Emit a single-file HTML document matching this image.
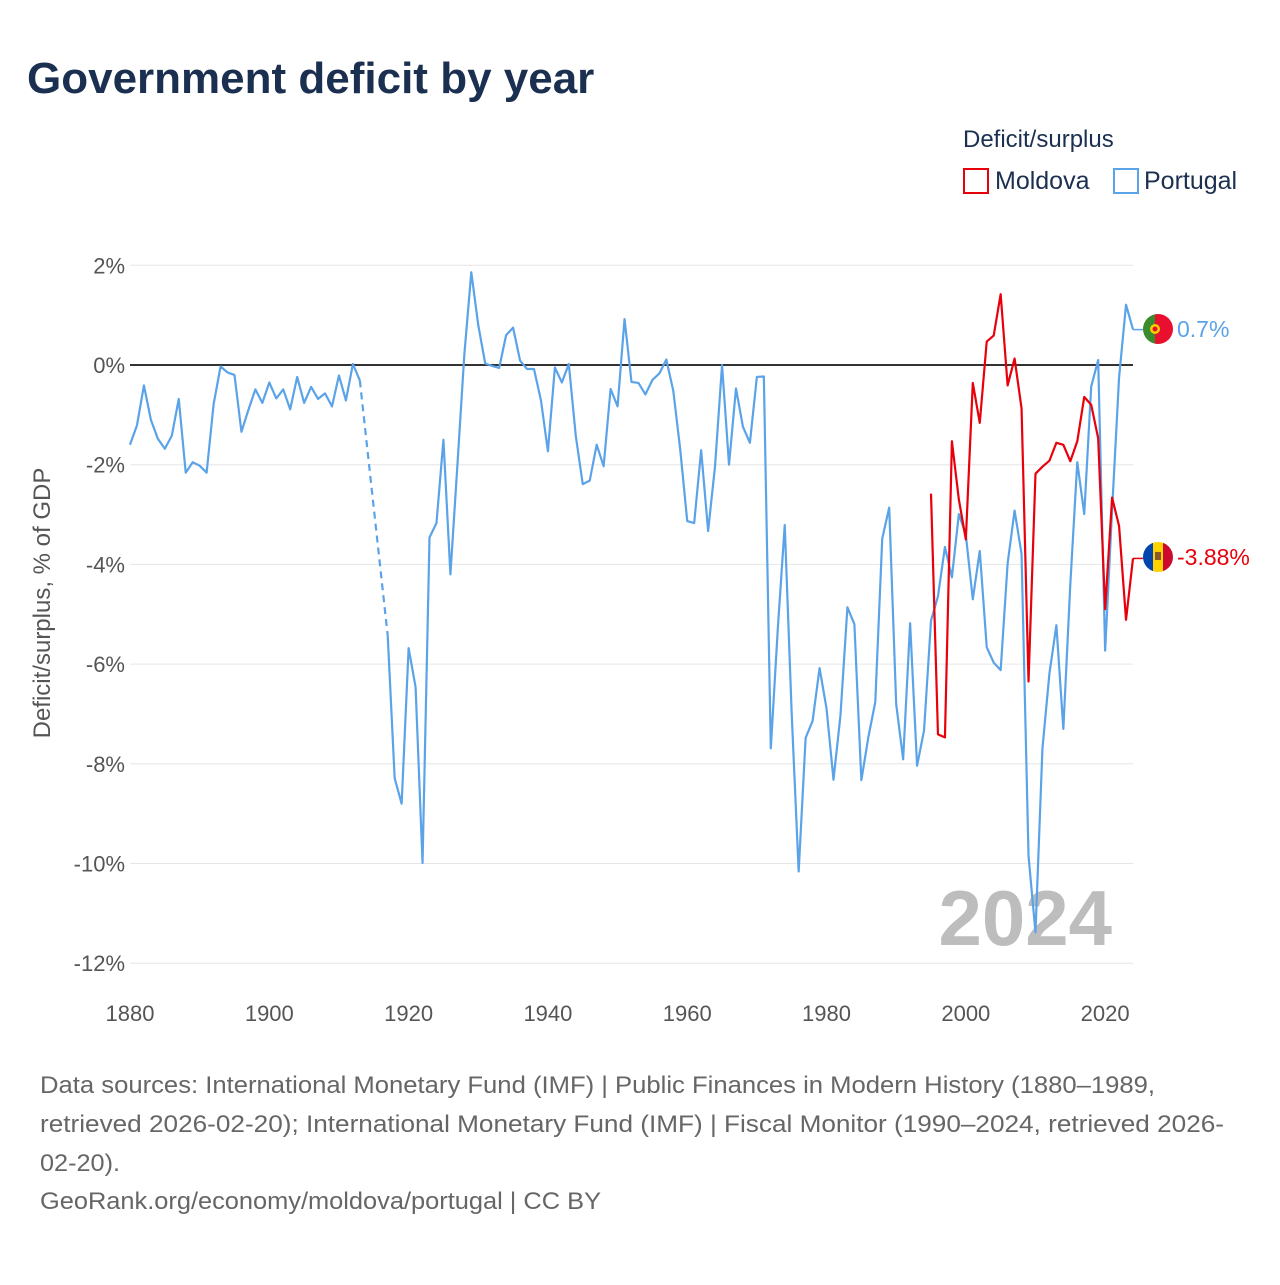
<!DOCTYPE html>
<html><head><meta charset="utf-8">
<style>
body{margin:0;background:#fff;width:1280px;height:1280px;overflow:hidden;font-family:"Liberation Sans",sans-serif}
svg text{font-family:"Liberation Sans",sans-serif}
</style></head>
<body>
<svg id="chart" width="1280" height="1280" xmlns="http://www.w3.org/2000/svg">
<text x="27" y="93" font-size="44" font-weight="bold" fill="#1b3050">Government deficit by year</text>
<text x="963" y="147" font-size="24" fill="#1b3050">Deficit/surplus</text>
<g><rect x="964" y="169" width="24" height="24" fill="none" stroke="#e8000b" stroke-width="2"/><text x="995" y="189" font-size="25" fill="#1b3050">Moldova</text></g>
<g><rect x="1114" y="169" width="24" height="24" fill="none" stroke="#5ba3e8" stroke-width="2"/><text x="1144" y="189" font-size="25" fill="#1b3050">Portugal</text></g>
<text transform="translate(50,603) rotate(-90)" text-anchor="middle" font-size="24" fill="#555">Deficit/surplus, % of GDP</text>
<g id="grid"></g><g id="xticks"></g>
<text x="1112" y="945" text-anchor="end" font-size="78" font-weight="bold" fill="#bdbdbd">2024</text>
<g id="series"></g>
<g><clipPath id="cp1"><circle cx="1158" cy="329" r="15"/></clipPath><g clip-path="url(#cp1)"><rect x="1143" y="314" width="12" height="30" fill="#3a8a2e"/><rect x="1155" y="314" width="18" height="30" fill="#e8102e"/><circle cx="1155" cy="329" r="5" fill="#f5d000"/><circle cx="1155" cy="329" r="2.5" fill="#e8102e"/></g></g>
<text x="1177" y="337" font-size="23" fill="#5ba3e8">0.7%</text>
<g><clipPath id="cp2"><circle cx="1158" cy="557" r="15"/></clipPath><g clip-path="url(#cp2)"><rect x="1143" y="542" width="10" height="30" fill="#0046ae"/><rect x="1153" y="542" width="10" height="30" fill="#ffd200"/><rect x="1163" y="542" width="10" height="30" fill="#cc092f"/><rect x="1155" y="552" width="6" height="8" fill="#8a5a2b"/></g></g>
<text x="1177" y="565" font-size="23" fill="#e8000b">-3.88%</text>
<g font-size="24" fill="#666">
<text x="40" y="1093" textLength="1115" lengthAdjust="spacingAndGlyphs">Data sources: International Monetary Fund (IMF) | Public Finances in Modern History (1880–1989,</text>
<text x="40" y="1132" textLength="1184" lengthAdjust="spacingAndGlyphs">retrieved 2026-02-20); International Monetary Fund (IMF) | Fiscal Monitor (1990–2024, retrieved 2026-</text>
<text x="40" y="1171" textLength="80" lengthAdjust="spacingAndGlyphs">02-20).</text>
<text x="40" y="1209" textLength="561" lengthAdjust="spacingAndGlyphs">GeoRank.org/economy/moldova/portugal | CC BY</text>
</g>
</svg>
<script>
const yTicks=[2,0,-2,-4,-6,-8,-10,-12];
const xTicks=[1880,1900,1920,1940,1960,1980,2000,2020];
const portugalStart=1880;
const portugal=[-1.60,-1.21,-0.41,-1.10,-1.48,-1.68,-1.42,-0.68,-2.16,-1.95,-2.02,-2.16,-0.79,-0.03,-0.15,-0.20,-1.34,-0.90,-0.49,-0.76,-0.35,-0.67,-0.49,-0.89,-0.24,-0.76,-0.44,-0.68,-0.57,-0.83,-0.21,-0.71,0.02,-0.31,null,null,null,-5.43,-8.29,-8.80,-5.68,-6.46,-9.99,-3.46,-3.17,-1.50,-4.20,-2.02,0.21,1.86,0.80,0.03,-0.02,-0.06,0.60,0.75,0.09,-0.08,-0.08,-0.71,-1.73,-0.05,-0.35,0.02,-1.42,-2.39,-2.32,-1.60,-2.03,-0.48,-0.83,0.92,-0.34,-0.36,-0.59,-0.30,-0.17,0.11,-0.52,-1.70,-3.13,-3.17,-1.71,-3.33,-2.02,0,-2.0,-0.47,-1.24,-1.56,-0.24,-0.23,-7.69,-5.3,-3.21,-7.0,-10.16,-7.48,-7.14,-6.08,-6.89,-8.32,-7.03,-4.86,-5.2,-8.33,-7.47,-6.76,-3.48,-2.86,-6.8,-7.91,-5.18,-8.04,-7.33,-5.13,-4.64,-3.65,-4.26,-2.99,-3.41,-4.70,-3.73,-5.66,-5.97,-6.12,-3.98,-2.92,-3.79,-9.85,-11.38,-7.69,-6.19,-5.22,-7.30,-4.4,-1.95,-2.99,-0.43,0.1,-5.73,-2.9,-0.25,1.21,0.71];
const moldovaStart=1995;
const moldova=[-2.58,-7.41,-7.47,-1.53,-2.70,-3.5,-0.36,-1.16,0.47,0.59,1.42,-0.41,0.13,-0.87,-6.35,-2.18,-2.04,-1.92,-1.56,-1.60,-1.93,-1.53,-0.64,-0.80,-1.47,-4.9,-2.66,-3.23,-5.11,-3.88];

const NS='http://www.w3.org/2000/svg';
const X=yr=>130+(yr-1880)*(1003/144);
const Y=v=>365-v*49.85;
function mk(tag,attrs,parent){const e=document.createElementNS(NS,tag);for(const k in attrs)e.setAttribute(k,attrs[k]);parent.appendChild(e);return e;}
const grid=document.getElementById('grid'),xt=document.getElementById('xticks'),ser=document.getElementById('series');
yTicks.forEach(t=>{
  const l=mk('line',{x1:130,x2:1133,y1:Y(t),y2:Y(t),stroke:t===0?'#333':'#e6e6e6','stroke-width':t===0?2:1},grid);
  
  
  const tx=mk('text',{x:125,y:Y(t)+8,'text-anchor':'end','font-size':22,fill:'#555'},grid);
  tx.textContent=t+'%';
  
  
});
xTicks.forEach(t=>{
  const tx=mk('text',{x:X(t),y:1021,'text-anchor':'middle','font-size':22,fill:'#555'},xt);
  tx.textContent=t;
  
  
});
function draw(arr,start,color,name){
  let segs=[],cur=[],gaps=[],last=null;
  arr.forEach((v,i)=>{
    if(v===null){if(cur.length)segs.push(cur);cur=[];return;}
    const p=[X(start+i),Y(v)];
    if(!cur.length&&last&&segs.length)gaps.push([last,p]);
    cur.push(p);last=p;
  });
  if(cur.length)segs.push(cur);
  segs.forEach(s=>{
    const pl=mk('polyline',{points:s.map(p=>p.join(',')).join(' '),fill:'none',stroke:color,'stroke-width':2.2,'stroke-linejoin':'round'},ser);
    
    
  });
  gaps.forEach(g=>{
    const l=mk('line',{x1:g[0][0],y1:g[0][1],x2:g[1][0],y2:g[1][1],stroke:color,'stroke-width':2.2,'stroke-dasharray':'7,5'},ser);
    
    
  });
  const lastIdx=arr.length-1;
  const c=mk('line',{x1:X(start+lastIdx),y1:Y(arr[lastIdx]),x2:1143,y2:Y(arr[lastIdx]),stroke:color,'stroke-width':1.5},ser);
  
  
}
draw(portugal,portugalStart,'#5ba3e8','portugal');
draw(moldova,moldovaStart,'#e8000b','moldova');
</script>
</body></html>
